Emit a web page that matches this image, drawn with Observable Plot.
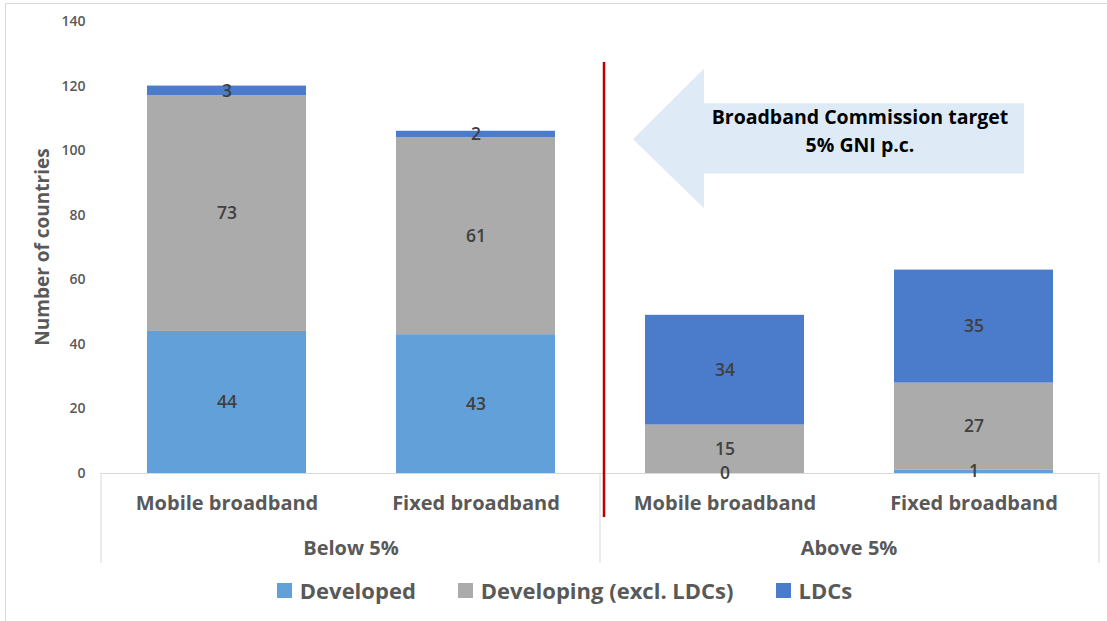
<!DOCTYPE html>
<html>
<head>
<meta charset="utf-8">
<script src="https://cdn.jsdelivr.net/npm/d3@7"></script>
<script src="https://cdn.jsdelivr.net/npm/@observablehq/plot@0.6"></script>
<style>
  body { margin: 0; background: #fff; font-family: "Open Sans", sans-serif; }
  #wrap { position: relative; width: 1107px; height: 621px; overflow: hidden; background: #fff; }
  #border { position: absolute; left: 5px; top: 3px; width: 1120px; height: 640px; border: 1px solid #d9d9d9; box-sizing: border-box; pointer-events: none; }
  #chart { position: absolute; left: 0; top: 0; }
  #chart svg { font-family: "Open Sans", sans-serif; overflow: visible; }
  #chart [aria-label="y-axis tick label"] text { font-size: 14px; font-weight: 600; fill: #595959; }
  #chart [aria-label="x-axis tick label"] text { font-size: 20px; font-weight: 700; fill: #595959; }
  #legend { position: absolute; top: 575px; left: 22px; width: 1085px; display: flex; justify-content: center; align-items: center; }
  .item { display: flex; align-items: center; margin: 0 21px; font-size: 22px; font-weight: 700; color: #595959; }
  .sw { width: 15px; height: 15px; margin-right: 8px; }
</style>
</head>
<body>
<div id="wrap">
  <div id="chart"></div>
  <div id="border"></div>
  <div id="legend"></div>
</div>
<script>
// ---- data ----
const groups = ["Below 5%", "Below 5%", "Above 5%", "Above 5%"];
const categories = ["Mobile broadband", "Fixed broadband", "Mobile broadband", "Fixed broadband"];
const seriesNames = ["Developed", "Developing (excl. LDCs)", "LDCs"];
const developed = [44, 43, 0, 1];
const developing = [73, 61, 15, 27];
const ldcs = [3, 2, 34, 35];
const seriesColors = ["#62a0da", "#ababab", "#4b7bcb"];
const yTicks = [0, 20, 40, 60, 80, 100, 120, 140];
const yLabel = "Number of countries";
const annotationLines = ["Broadband Commission target", "5% GNI p.c."];

// ---- table ----
const keys = groups.map((g, i) => g + "|" + categories[i]);
const valuesBySeries = [developed, developing, ldcs];
const rows = [];
seriesNames.forEach((s, si) => keys.forEach((k, i) => rows.push({ key: k, series: s, value: valuesBySeries[si][i] })));

const W = 1107, H = 570;
const chart = Plot.plot({
  width: W,
  height: H,
  marginTop: 21,
  marginBottom: 97,
  marginLeft: 101,
  marginRight: 8,
  x: { domain: keys, range: [101, 1099], paddingInner: 0.36, paddingOuter: 0.18, axis: null },
  y: { domain: [0, 140], axis: null },
  color: { domain: seriesNames, range: seriesColors },
  marks: [
    Plot.barY(rows, Plot.stackY({ x: "key", y: "value", z: "series", fill: "series", order: seriesNames })),
    Plot.ruleY([0], { stroke: "#d9d9d9", strokeWidth: 1 }),
    Plot.text(rows, Plot.stackY({ x: "key", y: "value", z: "series", order: seriesNames, text: d => String(d.value), fill: "#404040", fontSize: 17.5, fontWeight: 600 })),
    Plot.axisY({ ticks: yTicks, tickSize: 0, tickPadding: 16, label: null }),
    Plot.axisX({ tickFormat: d => d.split("|")[1], tickSize: 0, tickPadding: 22, label: null })
  ]
});
document.getElementById("chart").appendChild(chart);

// ---- decorations using the plot's scales ----
const xs = chart.scale("x"), ys = chart.scale("y");
const bw = xs.bandwidth;
const svg = d3.select(chart);
const y0 = ys.apply(0);
const left = 101, right = W - 8;
const mid = (xs.apply(keys[1]) + bw + xs.apply(keys[2])) / 2;

// group separators
[left, mid, right].forEach(xp => {
  svg.append("line").attr("x1", xp).attr("x2", xp).attr("y1", y0).attr("y2", y0 + 90)
    .attr("stroke", "#d9d9d9").attr("stroke-width", 1);
});

// group labels
const uniqueGroups = [...new Set(groups)];
uniqueGroups.forEach(g => {
  const ks = keys.filter(k => k.startsWith(g + "|"));
  const cx = (xs.apply(ks[0]) + xs.apply(ks[ks.length - 1]) + bw) / 2;
  svg.append("text").attr("x", cx).attr("y", y0 + 82).attr("text-anchor", "middle")
    .attr("font-size", 20).attr("font-weight", 700).attr("fill", "#595959").text(g);
});

// y axis title
svg.append("text").attr("transform", `translate(42,${(ys.apply(0) + ys.apply(140)) / 2}) rotate(-90)`)
  .attr("text-anchor", "middle").attr("dy", "0.35em")
  .attr("font-size", 19).attr("font-weight", 700).attr("fill", "#595959").text(yLabel);

// red threshold line
svg.append("line").attr("x1", mid + 4).attr("x2", mid + 4)
  .attr("y1", ys.apply(127.3)).attr("y2", y0 + 44)
  .attr("stroke", "#c00000").attr("stroke-width", 2.5);

// annotation arrow (pointing left)
const tipX = mid + 33, headX = mid + 104, endX = mid + 424;
const arrow = [
  [tipX, ys.apply(103.4)],
  [headX, ys.apply(125.3)],
  [headX, ys.apply(114.5)],
  [endX, ys.apply(114.5)],
  [endX, ys.apply(92.8)],
  [headX, ys.apply(92.8)],
  [headX, ys.apply(82)]
];
svg.append("path").attr("d", "M" + arrow.map(p => p.join(",")).join("L") + "Z").attr("fill", "#deebf7");
const tcx = mid + 260;
annotationLines.forEach((t, i) => {
  svg.append("text").attr("x", tcx).attr("y", ys.apply(110.2 - i * 8.8)).attr("dy", "0.35em")
    .attr("text-anchor", "middle").attr("font-size", 19.5).attr("font-weight", 700).attr("fill", "#000").text(t);
});

// legend
const legend = d3.select("#legend");
seriesNames.forEach((s, i) => {
  const it = legend.append("div").attr("class", "item");
  it.append("div").attr("class", "sw").style("background", seriesColors[i]);
  it.append("span").text(s);
});
</script>
</body>
</html>
